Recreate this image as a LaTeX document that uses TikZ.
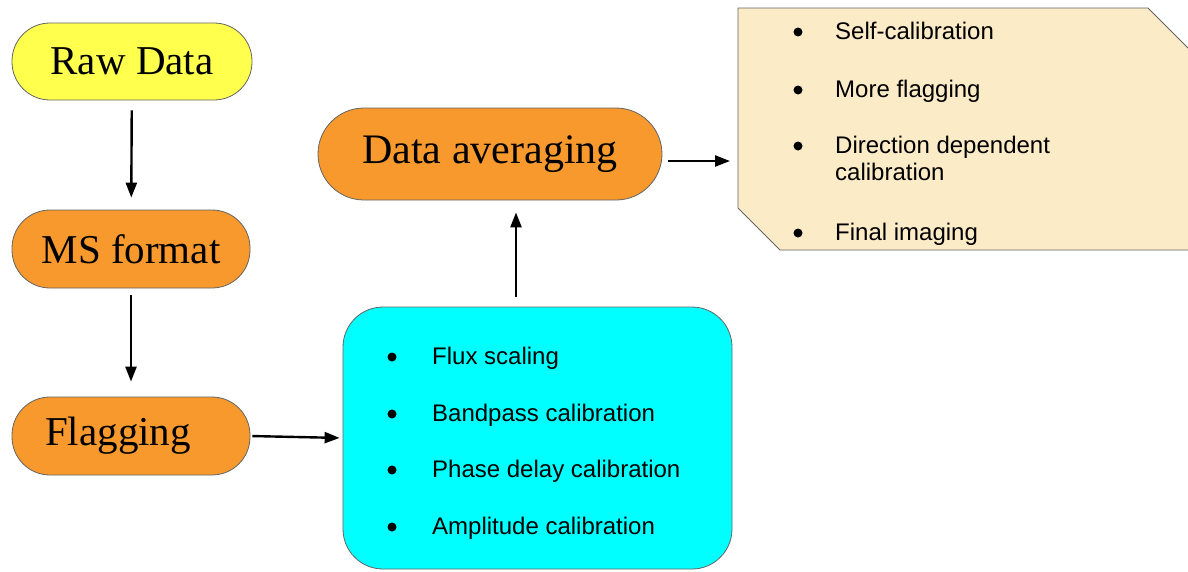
\documentclass[tikz,border=0pt]{standalone}
\usepackage{fontspec}
\setmainfont{Liberation Serif}
\newfontfamily\listfont{Liberation Sans}
\usetikzlibrary{arrows.meta,positioning}
\definecolor{rawyellow}{RGB}{255,255,77}
\definecolor{steporange}{RGB}{247,153,45}
\definecolor{calcyan}{RGB}{0,255,255}
\definecolor{imgtan}{RGB}{252,235,199}
\definecolor{edgegray}{RGB}{100,100,100}

\tikzset{
  pill/.style={draw=edgegray, line width=0.8pt, rounded corners=38pt, minimum width=238pt,
    minimum height=78pt, inner sep=0pt, font=\fontsize{41}{45}\selectfont},
  flow/.style={-{Triangle[length=15pt,width=11pt]}, line width=2.4pt},
  item/.style={anchor=base west, inner sep=0pt, font=\listfont\fontsize{24}{27}\selectfont},
  dot/.style={circle, fill=black, inner sep=0pt, minimum size=9pt}
}

\begin{document}
\begin{tikzpicture}[x=1pt, y=-1pt]
  \useasboundingbox (0,0) rectangle (1188,571);

  % pipeline steps
  \node[pill, fill=rawyellow, minimum width=240pt, minimum height=77pt] (rawdata) at (132,61.5) {Raw Data};
  \node[pill, fill=steporange] (msformat) at (131,249) {MS format};
  \node[pill, fill=steporange] (flagging) at (131,436) {Flagging\kern26pt};
  \node[pill, fill=steporange, rounded corners=46pt, minimum width=344pt, minimum height=92pt,
    font=\fontsize{42}{46}\selectfont] (averaging) at (490,154) {Data averaging};

  % calibration box
  \node[draw=edgegray, line width=0.8pt, fill=calcyan, rounded corners=40pt,
    minimum width=389pt, minimum height=262pt] (calib) at (537.5,438) {};
  \foreach \y/\txt [count=\i] in {364/Flux scaling, 421/Bandpass calibration,
      477/Phase delay calibration, 534/Amplitude calibration}{
    \node[dot] (caldot\i) at (392,\y-7) {};
    \node[item] (calitem\i) at (432,\y) {\txt};
  }

  % imaging box
  \draw[draw=edgegray, line width=0.8pt, fill=imgtan]
    (738,8) -- (1148,8) -- (1192,52) -- (1192,250) -- (780,250) -- (738,208) -- cycle;
  \coordinate (imgedge) at (738,129);
  \foreach \y/\txt [count=\i] in {39/Self-calibration, 97/More flagging,
      153/Direction dependent, 240/Final imaging}{
    \node[dot] (imgdot\i) at (798,\y-7) {};
    \node[item] (imgitem\i) at (835,\y) {\txt};
  }
  \node[item] (imgitem5) at (835,180) {calibration};

  % arrows
  \draw[flow, shorten <=10pt, shorten >=12pt] (rawdata) -- (msformat);
  \draw[flow, shorten <=7pt, shorten >=15pt] (msformat) -- (flagging);
  \draw[flow, shorten <=2pt, shorten >=3pt] (flagging.east) -- (calib.west);
  \draw[flow, shorten <=10pt, shorten >=12pt] ([xshift=-21.5pt]calib.north) -- ([xshift=26pt]averaging.south);
  \draw[flow, shorten <=6pt, shorten >=8pt] ([yshift=-7pt]averaging.east) -- ([yshift=-7pt]averaging.east -| imgedge);
\end{tikzpicture}
\end{document}
